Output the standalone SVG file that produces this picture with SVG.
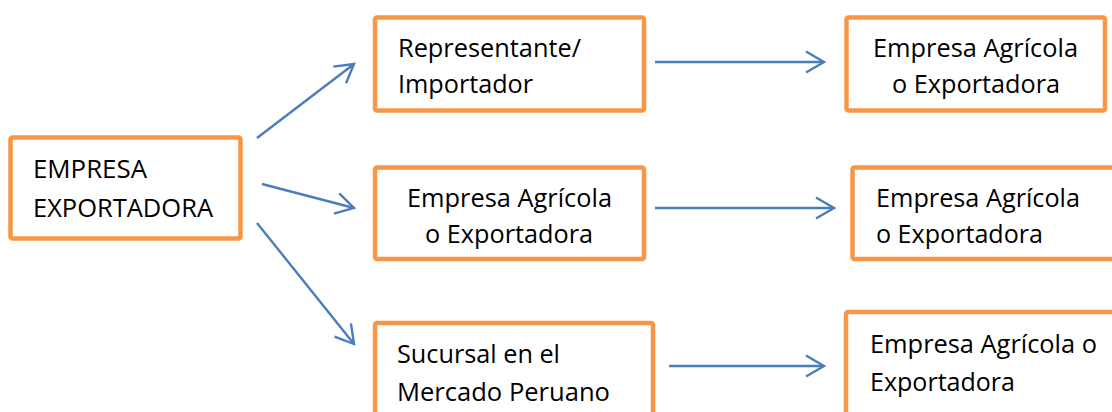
<svg xmlns="http://www.w3.org/2000/svg" width="1112" height="412" viewBox="0 0 1112 412">
<style>
.box{fill:#ffffff;stroke:#F79646;stroke-width:4.5}
.t{font-family:"Open Sans","Liberation Sans",sans-serif;font-size:25px;fill:#000000}
.c{fill:none;stroke:#4A7EBB;stroke-width:2.4;marker-end:url(#ah)}
</style>
<defs>
<marker id="ah" markerUnits="userSpaceOnUse" markerWidth="30" markerHeight="30" viewBox="-20 -15 30 30" refX="0" refY="0" orient="auto">
<path d="M-18,-10.5 L0,0 L-18,10.5" fill="none" stroke="#4A7EBB" stroke-width="2.4"/>
</marker>
</defs>
<rect width="1112" height="412" fill="#ffffff"/>
<g id="connectors">
<line class="c" x1="257" y1="138" x2="354" y2="64"/>
<line class="c" x1="262" y1="184" x2="354" y2="208"/>
<line class="c" x1="257" y1="223" x2="354" y2="344"/>
<line class="c" x1="655" y1="62" x2="824" y2="62"/>
<line class="c" x1="655" y1="208" x2="834" y2="208"/>
<line class="c" x1="669" y1="366" x2="824" y2="366"/>
</g>
<g id="n1">
<rect class="box" x="10.5" y="137.5" width="230" height="101" rx="2"/>
<text class="t" x="33" y="178" textLength="114" lengthAdjust="spacingAndGlyphs">EMPRESA</text>
<text class="t" x="33" y="217" textLength="180" lengthAdjust="spacingAndGlyphs">EXPORTADORA</text>
</g>
<g id="n2">
<rect class="box" x="375" y="17.5" width="269" height="93" rx="2"/>
<text class="t" x="398" y="57" textLength="183" lengthAdjust="spacingAndGlyphs">Representante/</text>
<text class="t" x="398" y="93" textLength="135" lengthAdjust="spacingAndGlyphs">Importador</text>
</g>
<g id="n3">
<rect class="box" x="846.5" y="17.5" width="258.5" height="93" rx="2"/>
<text class="t" x="873" y="57" textLength="205" lengthAdjust="spacingAndGlyphs">Empresa Agrícola</text>
<text class="t" x="892" y="93" textLength="168" lengthAdjust="spacingAndGlyphs">o Exportadora</text>
</g>
<g id="n4">
<rect class="box" x="375" y="167.5" width="269" height="91.5" rx="2"/>
<text class="t" x="407" y="207" textLength="205" lengthAdjust="spacingAndGlyphs">Empresa Agrícola</text>
<text class="t" x="425" y="243" textLength="168" lengthAdjust="spacingAndGlyphs">o Exportadora</text>
</g>
<g id="n5">
<rect class="box" x="852.5" y="167.5" width="270" height="91.5" rx="2"/>
<text class="t" x="876" y="207" textLength="204" lengthAdjust="spacingAndGlyphs">Empresa Agrícola</text>
<text class="t" x="876" y="243" textLength="167" lengthAdjust="spacingAndGlyphs">o Exportadora</text>
</g>
<g id="n6">
<rect class="box" x="375" y="323" width="278" height="100" rx="2"/>
<text class="t" x="397" y="363" textLength="163" lengthAdjust="spacingAndGlyphs">Sucursal en el</text>
<text class="t" x="397" y="401" textLength="213" lengthAdjust="spacingAndGlyphs">Mercado Peruano</text>
</g>
<g id="n7">
<rect class="box" x="846" y="312" width="280" height="110" rx="2"/>
<text class="t" x="870" y="353" textLength="227" lengthAdjust="spacingAndGlyphs">Empresa Agrícola o</text>
<text class="t" x="870" y="391" textLength="145" lengthAdjust="spacingAndGlyphs">Exportadora</text>
</g>
</svg>
